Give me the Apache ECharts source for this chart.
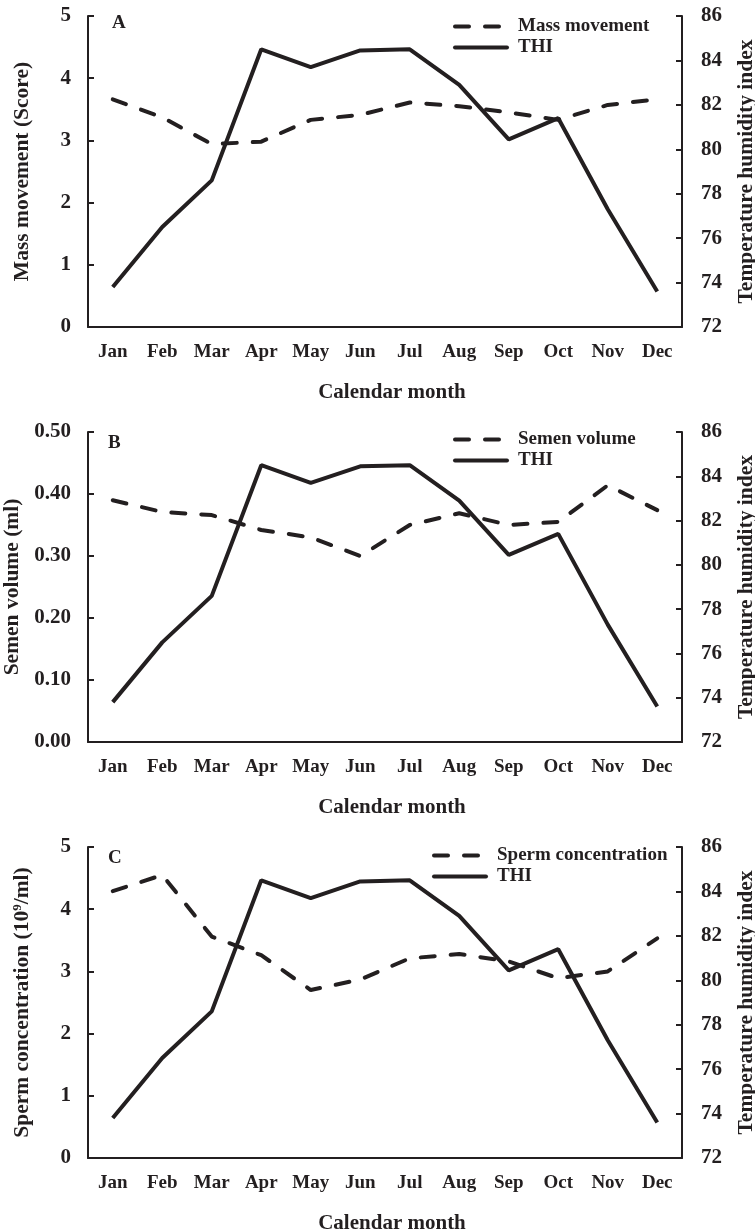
<!DOCTYPE html>
<html>
<head>
<meta charset="utf-8">
<title>Monthly semen traits and THI</title>
<script src="https://cdn.jsdelivr.net/npm/echarts@6/dist/echarts.min.js"></script>
<style>
    html, body { margin: 0; padding: 0; background: #fff; }
    #chartMain { width: 755px; height: 1231px; }
</style>
</head>
<body>
<div id="chartMain"></div>
<script>
// data
var months = ['Jan', 'Feb', 'Mar', 'Apr', 'May', 'Jun', 'Jul', 'Aug', 'Sep', 'Oct', 'Nov', 'Dec'];
var thi = [73.8, 76.5, 78.6, 84.5, 83.7, 84.45, 84.5, 82.9, 80.45, 81.4, 77.3, 73.6];
var massMovement = [3.66, 3.37, 2.94, 2.98, 3.33, 3.41, 3.61, 3.55, 3.45, 3.33, 3.57, 3.66];
var semenVolume = [0.39, 0.371, 0.366, 0.342, 0.33, 0.30, 0.35, 0.369, 0.35, 0.355, 0.414, 0.374];
var spermConc = [4.29, 4.55, 3.56, 3.26, 2.70, 2.87, 3.21, 3.28, 3.16, 2.89, 3.00, 3.53];
var thiTicks = [72, 86, 2];      // min, max, interval
var panelLetters = ['A', 'B', 'C'];

var ink = '#231f20';
var serif = "'Times New Roman', 'Liberation Serif', serif";

window.onload = function () {
    myCharts();
};

function myCharts() {
    var dom = document.getElementById("chartMain");
    var myChart = echarts.init(dom);

    // one panel = one grid, tops/heights in px
    var panels = [
        {top: 16, height: 311, leftName: 'Mass movement (Score)', dashName: 'Mass movement', data: massMovement, max: 5, interval: 1, digits: 0, legendLeft: 453, legendTop: 17},
        {top: 432, height: 310, leftName: 'Semen volume (ml)', dashName: 'Semen volume', data: semenVolume, max: 0.5, interval: 0.1, digits: 2, legendLeft: 453, legendTop: 430},
        {top: 847, height: 311, leftName: 'Sperm concentration (10{sup|9}/ml)', dashName: 'Sperm concentration', data: spermConc, max: 5, interval: 1, digits: 0, legendLeft: 432, legendTop: 846}
    ];

    var grid = [], xAxis = [], yAxis = [], series = [], legend = [], title = [];

    panels.forEach(function (p, i) {
        grid.push({left: 88, right: 73, top: p.top, height: p.height, containLabel: false, outerBoundsMode: 'none'});

        xAxis.push({
            type: 'category',
            gridIndex: i,
            data: months,
            boundaryGap: true,
            name: 'Calendar month',
            nameLocation: 'middle',
            nameGap: 55,
            nameTextStyle: {color: ink, fontFamily: serif, fontWeight: 'bold', fontSize: 21, padding: [0, 0, 0, 14]},
            axisLine: {lineStyle: {color: ink, width: 2}},
            axisTick: {show: false},
            axisLabel: {interval: 0, margin: 16, color: ink, fontFamily: serif, fontWeight: 'bold', fontSize: 19}
        });

        // 左轴
        yAxis.push({
            type: 'value',
            gridIndex: i,
            position: 'left',
            min: 0,
            max: p.max,
            interval: p.interval,
            name: p.leftName,
            nameLocation: 'middle',
            nameRotate: 90,
            nameGap: 55,
            nameTextStyle: {
                color: ink, fontFamily: serif, fontWeight: 'bold', fontSize: 21.5,
                rich: {sup: {fontSize: 13, fontFamily: serif, fontWeight: 'bold', color: ink, padding: [0, 0, 9, 0]}}
            },
            splitLine: {show: false},
            axisLine: {show: true, lineStyle: {color: ink, width: 2}},
            axisTick: {show: true, inside: true, length: 6, lineStyle: {color: ink, width: 2}},
            axisLabel: {
                margin: 17, color: ink, fontFamily: serif, fontWeight: 'bold', fontSize: 21,
                formatter: (function (d) { return function (v) { return v.toFixed(d); }; })(p.digits)
            }
        });

        // 右轴 THI
        yAxis.push({
            type: 'value',
            gridIndex: i,
            position: 'right',
            min: thiTicks[0],
            max: thiTicks[1],
            interval: thiTicks[2],
            name: 'Temperature humidity index',
            nameLocation: 'middle',
            nameRotate: 90,
            nameGap: 53,
            nameTextStyle: {color: ink, fontFamily: serif, fontWeight: 'bold', fontSize: 21.5},
            splitLine: {show: false},
            axisLine: {show: true, lineStyle: {color: ink, width: 2}},
            axisTick: {show: true, inside: true, length: 6, lineStyle: {color: ink, width: 2}},
            axisLabel: {margin: 19, color: ink, fontFamily: serif, fontWeight: 'bold', fontSize: 21}
        });

        series.push({
            name: p.dashName,
            type: 'line',
            xAxisIndex: i,
            yAxisIndex: i * 2,
            data: p.data,
            symbol: 'none',
            lineStyle: {color: ink, width: 4, type: [14, 16], cap: 'round'},
            itemStyle: {color: ink}
        });
        series.push({
            name: 'THI',
            type: 'line',
            xAxisIndex: i,
            yAxisIndex: i * 2 + 1,
            data: thi,
            symbol: 'none',
            lineStyle: {color: ink, width: 4, type: 'solid'},
            itemStyle: {color: ink}
        });

        legend.push({
            data: [p.dashName, 'THI'],
            orient: 'vertical',
            left: p.legendLeft,
            top: p.legendTop,
            padding: 0,
            itemGap: 2,
            itemWidth: 52,
            itemHeight: 17,
            itemStyle: {opacity: 0},
            lineStyle: {width: 4, cap: 'round'},
            textStyle: {color: ink, fontFamily: serif, fontWeight: 'bold', fontSize: 19, padding: [0, 0, 0, 6]}
        });

        title.push({
            text: panelLetters[i],
            left: i === 0 ? 112 : 108,
            top: p.top + (i === 0 ? -2 : 2),
            padding: 0,
            textStyle: {color: ink, fontFamily: serif, fontWeight: 'bold', fontSize: 19}
        });
    });

    var option = null;
    option = {
        animation: false,
        backgroundColor: '#fff',
        title: title,
        legend: legend,
        grid: grid,
        xAxis: xAxis,
        yAxis: yAxis,
        series: series
    };
    if (option && typeof option === "object") {
        myChart.setOption(option, true);
    }
}
</script>
</body>
</html>
